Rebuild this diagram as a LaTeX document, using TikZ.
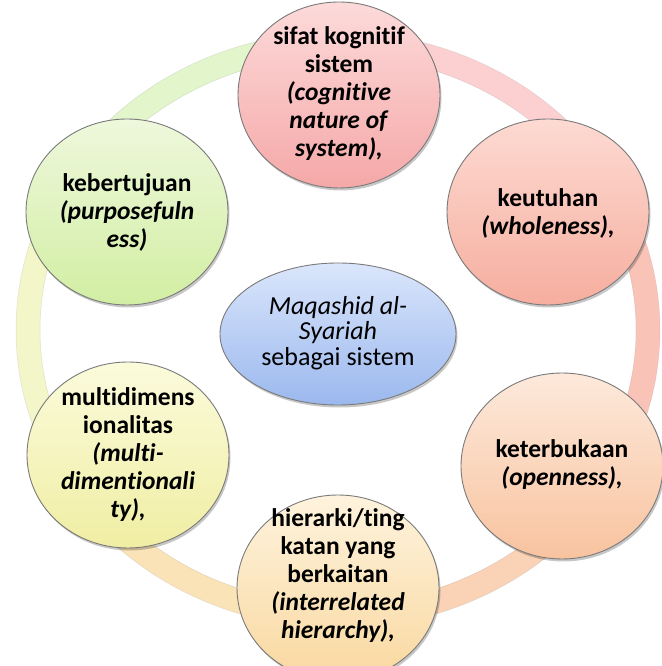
\documentclass[tikz,border=0pt]{standalone}
\usepackage{fontspec}
\setmainfont{Carlito}[RawFeature={-liga;-clig;-dlig;-calt}]
\usetikzlibrary{shapes.geometric,shadows}
\newcommand\Ti{t\kern0pt i}
\definecolor{rA}{HTML}{FCD0D0}
\definecolor{rB}{HTML}{F9C3B8}
\definecolor{rC}{HTML}{FAD2B6}
\definecolor{rD}{HTML}{FBE3B8}
\definecolor{rE}{HTML}{F3F6C8}
\definecolor{rF}{HTML}{E2F5CB}
\definecolor{bordc}{HTML}{7A7A7A}
\definecolor{t1}{HTML}{FDDADA}\definecolor{b1}{HTML}{F5A8A8}
\definecolor{t2}{HTML}{FDDAD2}\definecolor{b2}{HTML}{F6AE9F}
\definecolor{t3}{HTML}{FDE9DB}\definecolor{b3}{HTML}{F8C39F}
\definecolor{t4}{HTML}{FEF3DD}\definecolor{b4}{HTML}{F9D8A0}
\definecolor{t5}{HTML}{FBFBDC}\definecolor{b5}{HTML}{F0EEA3}
\definecolor{t6}{HTML}{EEF8DC}\definecolor{b6}{HTML}{D2EEA3}
\definecolor{t7}{HTML}{DAE6FB}\definecolor{b7}{HTML}{9BB8EE}
\begin{document}
\begin{tikzpicture}[x=1pt,y=1pt,
  bub/.style={ellipse, draw=bordc, line width=0.9pt, minimum width=202pt,
    minimum height=186pt, inner sep=0pt,
    drop shadow={shadow xshift=1.5pt, shadow yshift=-2.5pt, opacity=0.22, fill=black}},
  txt/.style={align=center, inner sep=0pt, text=black,
    font=\fontsize{25.5}{28}\selectfont\bfseries},
  ctxt/.style={align=center, inner sep=0pt, text=black,
    font=\fontsize{26}{25.5}\selectfont},
  ringseg/.style={line width=24pt}
]
\fill[white] (0,0) rectangle (661,666);
\useasboundingbox (0,0) rectangle (661,666);
\coordinate (rc) at (338,336);
% ring: each arc takes the colour of the node it leaves (clockwise)
\foreach \ca/\st in {rF/150, rA/90, rB/30, rC/-30, rD/-90, rE/-150} {
  \pgfmathsetmacro\ab{\st-61}
  \draw[ringseg, color=\ca] ([shift={(\st:310 and 286)}]rc)
    arc[start angle=\st, end angle=\ab, x radius=310, y radius=286];
}
\draw[gray, opacity=0.2, line width=0.5pt] (rc) ellipse [x radius=322, y radius=298];
\draw[gray, opacity=0.2, line width=0.5pt] (rc) ellipse [x radius=298, y radius=274];
% circles
\node[bub, top color=t1, bottom color=b1] (n1) at (339,571) {};
\node[bub, top color=t2, bottom color=b2] (n2) at (548,454) {};
\node[bub, top color=t3, bottom color=b3] (n3) at (562,200) {};
\node[bub, top color=t4, bottom color=b4] (n4) at (338,78) {};
\node[bub, top color=t5, bottom color=b5] (n5) at (128,211) {};
\node[bub, top color=t6, bottom color=b6] (n6) at (127,454) {};
\node[bub, top color=t7, bottom color=b7, minimum width=236pt, minimum height=142pt] (c) at (338,332) {};
% texts
\node[txt] (n1t) at (339,572) {sifat kogni\Ti f\\ sistem\\ \textit{(cogni\Ti ve}\\ \textit{nature of}\\ \textit{system),}};
\node[txt] (n2t) at (548,453) {keutuhan\\ \textit{(wholeness),}};
\node[txt] (n3t) at (562,201) {keterbukaan\\ \textit{(openness),}};
\node[txt] (n4t) at (338,90) {hierarki/\Ti ng\\ katan yang\\ berkaitan\\ \textit{(interrelated}\\ \textit{hierarchy),}};
\node[txt] (n5t) at (128,211) {mul\Ti dimens\\ ionalitas\\ \textit{(mul\Ti -}\\ \textit{dimen\Ti onali}\\ \textit{ty),}};
\node[txt] (n6t) at (127,454) {kebertujuan\\ \textit{(purposefuln}\\ \textit{ess)}};
\node[ctxt] (ct) at (338,333) {\textit{Maqashid al-}\\ \textit{Syariah}\\ sebagai sistem};
\end{tikzpicture}
\end{document}
